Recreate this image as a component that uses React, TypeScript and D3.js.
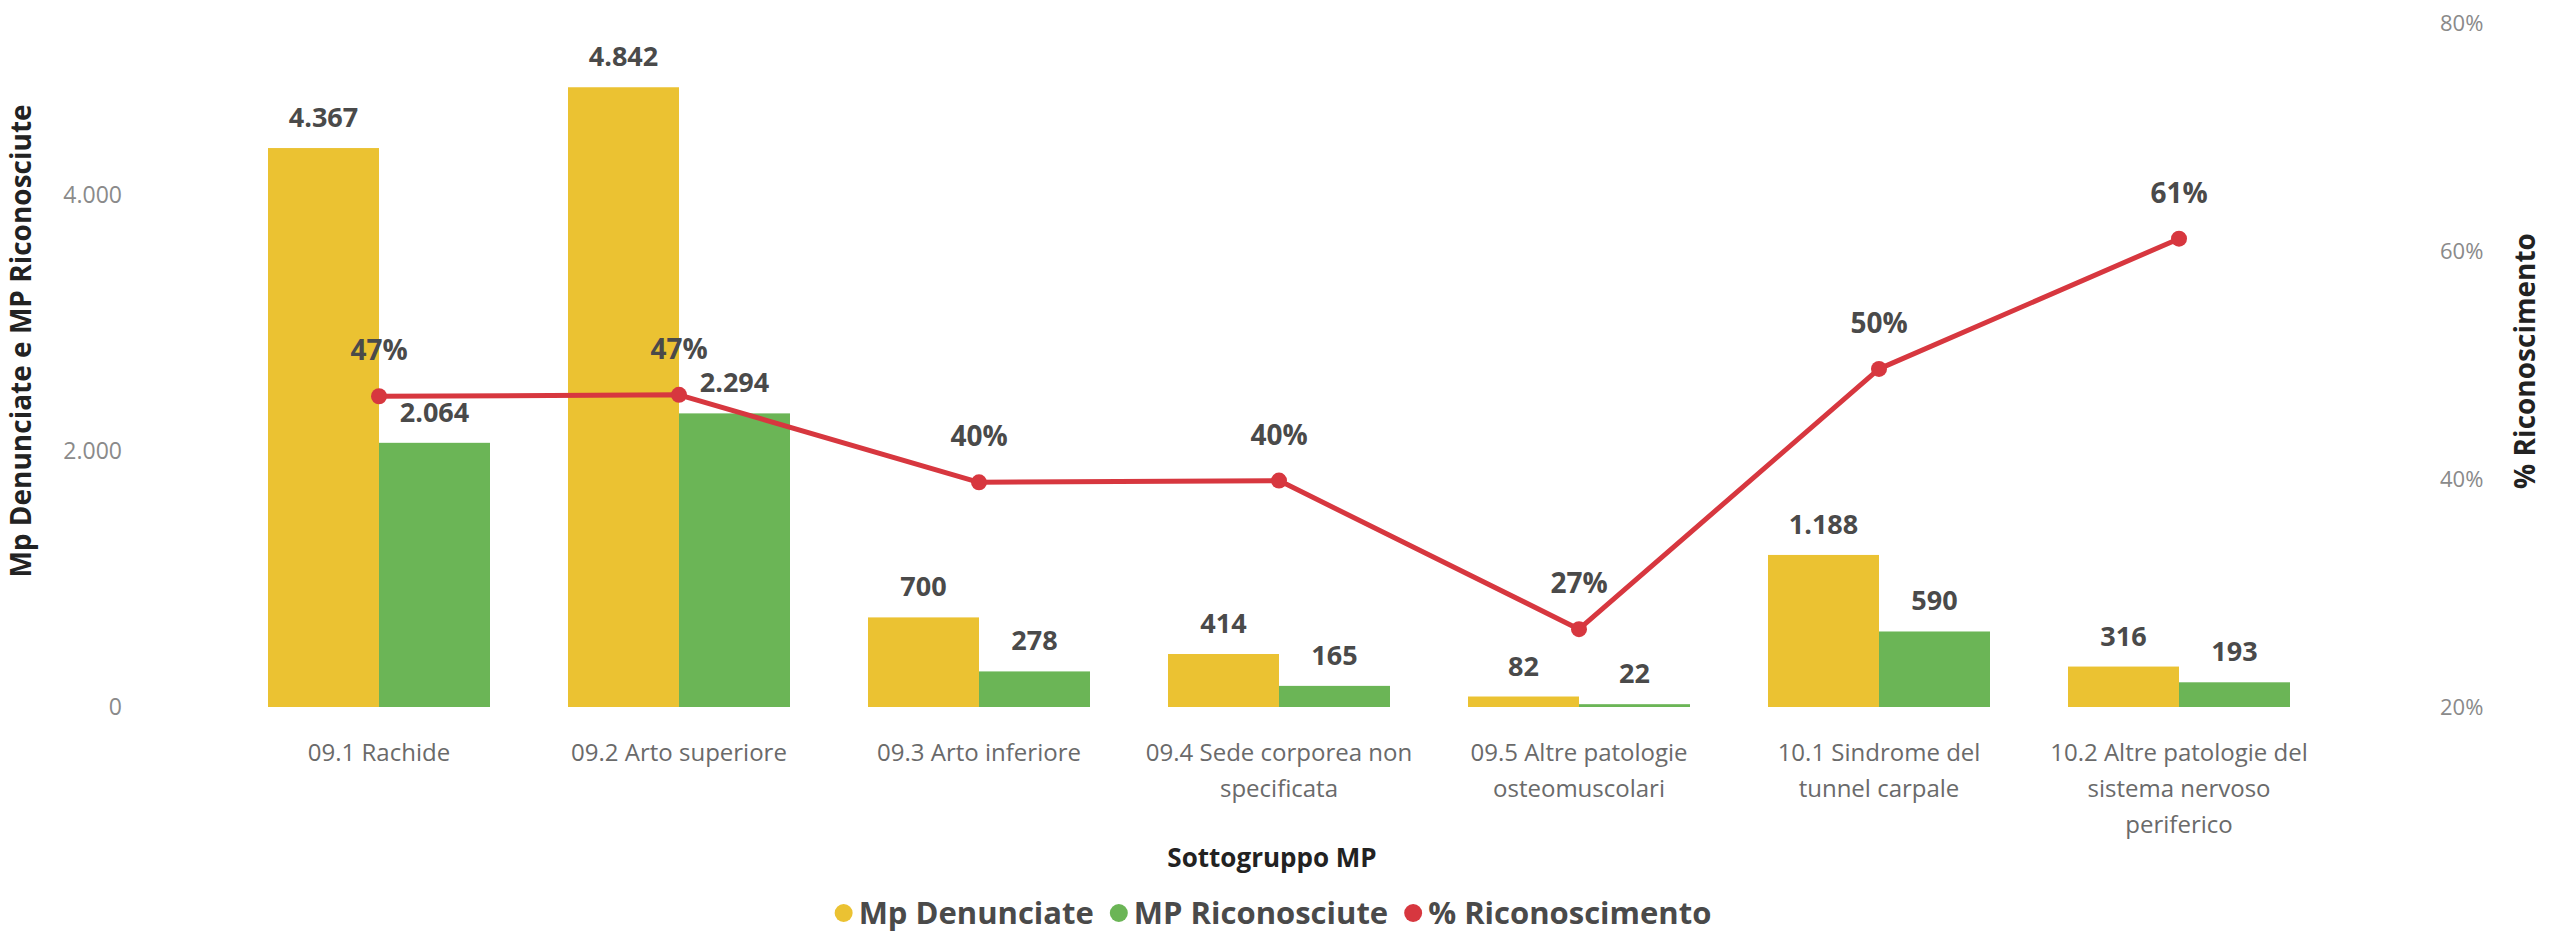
import React, { useEffect } from "react";
import * as d3 from "d3";

const categories = [
  "09.1 Rachide",
  "09.2 Arto superiore",
  "09.3 Arto inferiore",
  "09.4 Sede corporea non specificata",
  "09.5 Altre patologie osteomuscolari",
  "10.1 Sindrome del tunnel carpale",
  "10.2 Altre patologie del sistema nervoso periferico",
];
const categoryLines = [
  ["09.1 Rachide"],
  ["09.2 Arto superiore"],
  ["09.3 Arto inferiore"],
  ["09.4 Sede corporea non", "specificata"],
  ["09.5 Altre patologie", "osteomuscolari"],
  ["10.1 Sindrome del", "tunnel carpale"],
  ["10.2 Altre patologie del", "sistema nervoso", "periferico"],
];
const mpDenunciate = [4367, 4842, 700, 414, 82, 1188, 316];
const mpRiconosciute = [2064, 2294, 278, 165, 22, 590, 193];
const percRiconoscimento = [0.4726, 0.4738, 0.3971, 0.3986, 0.2683, 0.4966, 0.6108];
const leftTicks = [0, 2000, 4000];
const rightTicks = [0.2, 0.4, 0.6, 0.8];
const seriesNames = ["Mp Denunciate", "MP Riconosciute", "% Riconoscimento"];
const leftTitle = "Mp Denunciate e MP Riconosciute";
const rightTitle = "% Riconoscimento";
const xTitle = "Sottogruppo MP";

const W = 2550;
const H = 932;
const COLORS = ["#EBC232", "#6BB556", "#D7373F"];
const FONT = "'Segoe UI', 'Open Sans', sans-serif";
const LABEL = "#4a4a4a";
const TICK = "#8a8a8a";

const itIT = d3.formatLocale({ decimal: ",", thousands: ".", grouping: [3], currency: ["€", ""] });
const fmtNum = itIT.format(",d");
const fmtPct = d3.format(".0%");

function measure(text: string, font: string): number {
  const c = document.createElement("canvas").getContext("2d");
  if (!c) return text.length * 16;
  c.font = font;
  return c.measureText(text).width;
}

export default function App() {
  useEffect(() => {
    document.body.style.margin = "0";
  }, []);

  const x = d3.scaleBand<string>().domain(categories).range([229, 2329]).paddingInner(0.26).paddingOuter(0.13);
  const xs = d3.scaleBand<number>().domain([0, 1]).range([0, x.bandwidth()]);
  const y = d3.scaleLinear().domain([0, 5344]).range([707, 23]);
  const yr = d3.scaleLinear().domain([0.2, 0.8]).range([707, 23]);

  const cx = (i: number) => (x(categories[i]) as number) + x.bandwidth() / 2;
  const line = d3
    .line<number>()
    .x((_, i) => cx(i))
    .y((d) => yr(d));

  const legendSize = 31;
  const legendFont = `bold ${legendSize}px 'Segoe UI', 'Open Sans', sans-serif`;
  const markerR = 9;
  const gapMarker = 6;
  const gapItem = 16;
  const widths = seriesNames.map((s) => measure(s, legendFont));
  const itemW = widths.map((w) => markerR * 2 + gapMarker + w);
  const totalW = d3.sum(itemW) + gapItem * (seriesNames.length - 1);
  let lx = 1273 - totalW / 2;
  const legendItems = seriesNames.map((s, i) => {
    const start = lx;
    lx += itemW[i] + gapItem;
    return { s, start, color: COLORS[i] };
  });

  const series = [mpDenunciate, mpRiconosciute];

  return (
    <svg width={W} height={H} style={{ position: "fixed", left: 0, top: 0, background: "#fff" }} fontFamily={FONT}>
      {leftTicks.map((t) => (
        <text key={"l" + t} x={122} y={y(t)} dy="0.35em" textAnchor="end" fontSize={23} fill={TICK}>
          {fmtNum(t)}
        </text>
      ))}
      {rightTicks.map((t) => (
        <text key={"r" + t} x={2440} y={yr(t)} dy="0.35em" textAnchor="start" fontSize={22} fill={TICK}>
          {fmtPct(t)}
        </text>
      ))}
      <text
        transform={`translate(31, ${(707 + 23) / 2 - 24}) rotate(-90)`}
        textAnchor="middle"
        fontSize={28}
        fontWeight="bold"
        fill="#222"
      >
        {leftTitle}
      </text>
      <text
        transform={`translate(2535, ${(707 + 23) / 2 - 4}) rotate(-90)`}
        textAnchor="middle"
        fontSize={28}
        fontWeight="bold"
        fill="#222"
      >
        {rightTitle}
      </text>
      {categories.map((c, i) => (
        <g key={c} transform={`translate(${x(c)},0)`}>
          {series.map((s, k) => (
            <rect
              key={k}
              x={xs(k)}
              y={y(s[i])}
              width={xs.bandwidth()}
              height={y(0) - y(s[i])}
              fill={COLORS[k]}
            />
          ))}
        </g>
      ))}
      <path d={line(percRiconoscimento) || ""} fill="none" stroke={COLORS[2]} strokeWidth={5} strokeLinejoin="round" />
      {percRiconoscimento.map((p, i) => (
        <circle key={"m" + i} cx={cx(i)} cy={yr(p)} r={8} fill={COLORS[2]} />
      ))}
      {categories.map((c, i) =>
        series.map((s, k) => (
          <text
            key={c + k}
            x={(x(c) as number) + (xs(k) as number) + xs.bandwidth() / 2}
            y={y(s[i]) - 21}
            textAnchor="middle"
            fontSize={27}
            fontWeight="bold"
            fill={LABEL}
          >
            {fmtNum(s[i])}
          </text>
        ))
      )}
      {percRiconoscimento.map((p, i) => (
        <text
          key={"p" + i}
          x={cx(i)}
          y={yr(p) - 36}
          textAnchor="middle"
          fontSize={28}
          fontWeight="bold"
          fill={LABEL}
        >
          {fmtPct(p)}
        </text>
      ))}
      {categories.map((c, i) => (
        <text key={"c" + i} x={cx(i)} y={761} textAnchor="middle" fontSize={24} fill="#6a6a6a">
          {categoryLines[i].map((ln, j) => (
            <tspan key={j} x={cx(i)} dy={j === 0 ? 0 : 36}>
              {ln}
            </tspan>
          ))}
        </text>
      ))}
      <text x={1272} y={867} textAnchor="middle" fontSize={26} fontWeight="bold" fill="#222">
        {xTitle}
      </text>
      {legendItems.map((it, i) => (
        <g key={"lg" + i}>
          <circle cx={it.start + markerR} cy={913} r={markerR} fill={it.color} />
          <text
            x={it.start + markerR * 2 + gapMarker}
            y={924}
            fontSize={legendSize}
            fontWeight="bold"
            fill={LABEL}
          >
            {it.s}
          </text>
        </g>
      ))}
    </svg>
  );
}
